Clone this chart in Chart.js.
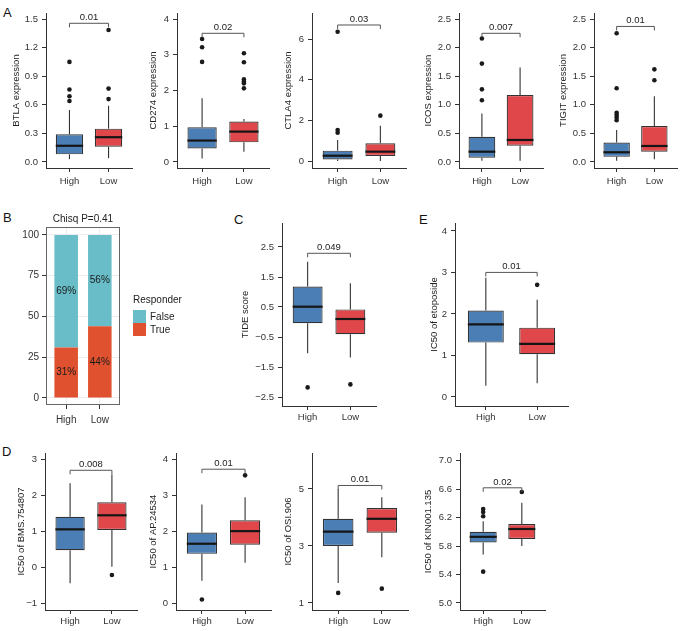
<!DOCTYPE html>
<html>
<head>
<meta charset="utf-8">
<script src="https://cdn.jsdelivr.net/npm/chart.js@4.4.0/dist/chart.umd.min.js"></script>
<style>
  body { margin: 0; background: #fff; width: 681px; height: 631px; position: relative; overflow: hidden; font-family: "Liberation Sans", Arial, sans-serif; }
  canvas { position: absolute; }
  .tag { position: absolute; font-size: 13px; line-height: 13px; color: #111; }
</style>
</head>
<body>
<div class="tag" style="left:3px;top:6px">A</div>
<div class="tag" style="left:3px;top:211px">B</div>
<div class="tag" style="left:234px;top:213px">C</div>
<div class="tag" style="left:419px;top:213px">E</div>
<div class="tag" style="left:2px;top:445px">D</div>

<canvas id="btla"></canvas>
<canvas id="cd274"></canvas>
<canvas id="ctla4"></canvas>
<canvas id="icos"></canvas>
<canvas id="tigit"></canvas>
<canvas id="resp"></canvas>
<canvas id="tide"></canvas>
<canvas id="etop"></canvas>
<canvas id="bms"></canvas>
<canvas id="ap"></canvas>
<canvas id="osi"></canvas>
<canvas id="kin"></canvas>

<script>
// groups on the x axis
var groups = ["High", "Low"];

// box stats: [lower whisker, Q1, median, Q3, upper whisker]
var btlaHigh = [0.03, 0.08, 0.17, 0.29, 0.545];
var btlaLow = [0.04, 0.16, 0.26, 0.35, 0.59];
var btlaOutHigh = [0.64, 0.69, 0.76, 1.05];
var btlaOutLow = [0.66, 0.77, 1.385];
var btlaTicks = [0, 0.3, 0.6, 0.9, 1.2, 1.5];

var cd274High = [0.1, 0.38, 0.6, 0.97, 1.78];
var cd274Low = [0.29, 0.55, 0.85, 1.13, 1.2];
var cd274OutHigh = [2.8, 3.21, 3.44];
var cd274OutLow = [2.06, 2.2, 2.25, 2.31, 2.79, 3.04];
var cd274Ticks = [0, 1, 2, 3, 4];

var ctla4High = [0.0, 0.08, 0.26, 0.51, 1.03];
var ctla4Low = [0.0, 0.25, 0.46, 0.87, 1.74];
var ctla4OutHigh = [1.39, 1.52, 6.36];
var ctla4OutLow = [2.23];
var ctla4Ticks = [0, 2, 4, 6];

var icosHigh = [0.02, 0.075, 0.18, 0.44, 0.85];
var icosLow = [0.02, 0.285, 0.385, 1.17, 1.65];
var icosOutHigh = [1.08, 1.27, 1.72, 2.16];
var icosOutLow = [];
var icosTicks = [0, 0.5, 1, 1.5, 2, 2.5];

var tigitHigh = [0.02, 0.09, 0.17, 0.34, 0.56];
var tigitLow = [0.05, 0.18, 0.28, 0.63, 1.15];
var tigitOutHigh = [0.73, 0.78, 0.82, 0.86, 1.29, 2.25];
var tigitOutLow = [1.43, 1.62];
var tigitTicks = [0, 0.5, 1, 1.5, 2, 2.5];

var tideHigh = [-1.04, -0.04, 0.51, 1.18, 2.01];
var tideLow = [-1.18, -0.41, 0.1, 0.42, 1.29];
var tideOutHigh = [-2.18];
var tideOutLow = [-2.08];
var tideTicks = [-2.5, -1.5, -0.5, 0.5, 1.5, 2.5];

var etopHigh = [0.27, 1.31, 1.75, 2.08, 2.87];
var etopLow = [0.33, 1.03, 1.28, 1.67, 2.34];
var etopOutHigh = [];
var etopOutLow = [2.7];
var etopTicks = [0, 1, 2, 3, 4];

var bmsHigh = [-0.45, 0.47, 1.05, 1.4, 2.33];
var bmsLow = [0.01, 1.03, 1.44, 1.8, 2.57];
var bmsOutHigh = [];
var bmsOutLow = [-0.22];
var bmsTicks = [-1, 0, 1, 2, 3];

var apHigh = [0.62, 1.37, 1.65, 1.96, 2.74];
var apLow = [1.12, 1.62, 2.0, 2.3, 2.94];
var apOutHigh = [0.1];
var apOutLow = [3.55];
var apTicks = [0, 1, 2, 3, 4];

var osiHigh = [1.7, 3.0, 3.5, 3.95, 5.0];
var osiLow = [2.6, 3.46, 3.95, 4.33, 4.71];
var osiOutHigh = [1.35];
var osiOutLow = [1.5];
var osiTicks = [1, 3, 5];

var kinHigh = [5.68, 5.85, 5.93, 6.0, 6.15];
var kinLow = [5.8, 5.9, 6.04, 6.11, 6.41];
var kinOutHigh = [5.44, 6.22, 6.28, 6.32];
var kinOutLow = [6.56];
var kinTicks = [5.0, 5.4, 5.8, 6.2, 6.6, 7.0];

// panel B: responder share (%)
var respTrue = [31, 44];
var respFalse = [69, 56];
var respTicks = [0, 25, 50, 75, 100];

var BLUE = "#4a7eb4";
var RED = "#e0474b";
var INK = "#333333";
var FONT = "Liberation Sans";

function fmt(v, dec) {
  var s = v.toFixed(dec);
  return s.charAt(0) === "-" ? "\u2212" + s.slice(1) : s;
}

function place(cv, c) {
  cv.style.left = c[0] + "px";
  cv.style.top = c[1] + "px";
  cv.width = c[2];
  cv.height = c[3];
}

function strokeLine(ctx, x1, y1, x2, y2) {
  ctx.beginPath();
  ctx.moveTo(x1, y1);
  ctx.lineTo(x2, y2);
  ctx.stroke();
}

var boxExtras = {
  id: "boxExtras",
  afterDatasetsDraw: function (chart, args, o) {
    var ctx = chart.ctx, x = chart.scales.x, y = chart.scales.y;
    var meta = chart.getDatasetMeta(0);
    ctx.save();
    o.stats.forEach(function (s, i) {
      var px = x.getPixelForValue(i + 1);
      var half = meta.data[i].width / 2;
      ctx.strokeStyle = INK;
      ctx.lineWidth = 1.1;
      strokeLine(ctx, px, y.getPixelForValue(s[0]), px, y.getPixelForValue(s[1]));
      strokeLine(ctx, px, y.getPixelForValue(s[3]), px, y.getPixelForValue(s[4]));
      ctx.strokeStyle = "#151515";
      ctx.lineWidth = 2.2;
      var ym = y.getPixelForValue(s[2]);
      strokeLine(ctx, px - half, ym, px + half, ym);
    });
    // significance bracket
    var by = y.getPixelForValue(o.bracket);
    var x1 = x.getPixelForValue(1), x2 = x.getPixelForValue(2);
    ctx.strokeStyle = "#555";
    ctx.lineWidth = 1;
    ctx.beginPath();
    ctx.moveTo(x1, by + 4);
    ctx.lineTo(x1, by);
    ctx.lineTo(x2, by);
    ctx.lineTo(x2, by + 4);
    ctx.stroke();
    ctx.fillStyle = "#222";
    ctx.font = "9.5px '" + FONT + "'";
    ctx.textAlign = "center";
    ctx.textBaseline = "alphabetic";
    ctx.fillText(o.p, (x1 + x2) / 2, by - 3);
    ctx.restore();
  }
};

// p: canvas [l,t,w,h], area [L,T,R,B], range [min,max], titleX, xpad
function boxChart(id, p) {
  var cv = document.getElementById(id);
  place(cv, p.canvas);
  var cl = p.canvas[0], ct = p.canvas[1], cw = p.canvas[2], ch = p.canvas[3];
  var L = p.area[0], T = p.area[1], R = p.area[2], B = p.area[3];
  var tickFont = { family: FONT, size: 9.5 };
  var outliers = [];
  p.outHigh.forEach(function (v) { outliers.push({ x: 1, y: v }); });
  p.outLow.forEach(function (v) { outliers.push({ x: 2, y: v }); });
  return new Chart(cv, {
    type: "bar",
    data: {
      datasets: [{
        data: [{ x: 1, y: [p.high[1], p.high[3]] }, { x: 2, y: [p.low[1], p.low[3]] }],
        backgroundColor: [BLUE, RED],
        borderColor: INK,
        borderWidth: 1.2,
        borderSkipped: false,
        barPercentage: 0.7,
        categoryPercentage: 1
      }, {
        type: "line",
        data: outliers,
        showLine: false,
        pointRadius: 2.3,
        pointBorderWidth: 0,
        pointBackgroundColor: "#1a1a1a"
      }]
    },
    options: {
      responsive: false,
      animation: false,
      devicePixelRatio: 1,
      layout: { padding: { top: T - ct, right: cl + cw - R, left: 0, bottom: 0 } },
      plugins: {
        legend: { display: false },
        tooltip: { enabled: false },
        boxExtras: { stats: [p.high, p.low], bracket: p.bracket, p: p.pval }
      },
      scales: {
        x: {
          type: "linear",
          min: 0.4,
          max: 2.6,
          offset: false,
          afterBuildTicks: function (s) { s.ticks = [{ value: 1 }, { value: 2 }]; },
          afterFit: function (s) { s.height = ct + ch - B; },
          ticks: {
            callback: function (v) { return groups[Math.round(v) - 1]; },
            font: tickFont, color: INK, padding: p.xpad, maxRotation: 0
          },
          grid: { offset: false, drawOnChartArea: false, drawTicks: true, tickLength: 4, color: INK },
          border: { display: true, color: INK, width: 1 }
        },
        y: {
          min: p.range[0],
          max: p.range[1],
          afterBuildTicks: function (s) { s.ticks = p.ticks.map(function (v) { return { value: v }; }); },
          afterFit: function (s) { s.width = L - cl; },
          ticks: {
            callback: function (v) { return fmt(v, p.dec); },
            font: tickFont, color: INK, padding: 4
          },
          title: {
            display: true, text: p.title, color: "#222",
            font: { family: FONT, size: 9.5, lineHeight: 1.2 },
            padding: { top: p.titleX - cl - 5.7, bottom: 0 }
          },
          grid: { drawOnChartArea: false, drawTicks: true, tickLength: 4, color: INK },
          border: { display: true, color: INK, width: 1 }
        }
      }
    },
    plugins: [boxExtras]
  });
}

boxChart("btla", { canvas: [6, 0, 130, 200], area: [46, 13, 132, 168], range: [-0.063, 1.563], ticks: btlaTicks, dec: 1,
  high: btlaHigh, low: btlaLow, outHigh: btlaOutHigh, outLow: btlaOutLow, bracket: 1.455, pval: "0.01",
  title: "BTLA expression", titleX: 16, xpad: 4 });
boxChart("cd274", { canvas: [143, 0, 130, 200], area: [177, 13, 269, 168], range: [-0.168, 4.168], ticks: cd274Ticks, dec: 0,
  high: cd274High, low: cd274Low, outHigh: cd274OutHigh, outLow: cd274OutLow, bracket: 3.6, pval: "0.02",
  title: "CD274 expression", titleX: 153, xpad: 4 });
boxChart("ctla4", { canvas: [278, 0, 132, 200], area: [312, 13, 407, 168], range: [-0.344, 7.28], ticks: ctla4Ticks, dec: 0,
  high: ctla4High, low: ctla4Low, outHigh: ctla4OutHigh, outLow: ctla4OutLow, bracket: 6.69, pval: "0.03",
  title: "CTLA4 expression", titleX: 288, xpad: 4 });
boxChart("icos", { canvas: [418, 0, 129, 200], area: [459, 13, 544, 168], range: [-0.105, 2.605], ticks: icosTicks, dec: 1,
  high: icosHigh, low: icosLow, outHigh: icosOutHigh, outLow: icosOutLow, bracket: 2.25, pval: "0.007",
  title: "ICOS expression", titleX: 428, xpad: 4 });
boxChart("tigit", { canvas: [553, 0, 128, 200], area: [594, 13, 679, 168], range: [-0.105, 2.605], ticks: tigitTicks, dec: 1,
  high: tigitHigh, low: tigitLow, outHigh: tigitOutHigh, outLow: tigitOutLow, bracket: 2.37, pval: "0.01",
  title: "TIGIT expression", titleX: 563, xpad: 4 });

boxChart("tide", { canvas: [235, 205, 145, 225], area: [282, 223, 376, 406], range: [-2.8, 3.3], ticks: tideTicks, dec: 1,
  high: tideHigh, low: tideLow, outHigh: tideOutHigh, outLow: tideOutLow, bracket: 2.29, pval: "0.049",
  title: "TIDE score", titleX: 245, xpad: 2 });
boxChart("etop", { canvas: [424, 205, 148, 225], area: [455, 223, 568, 406], range: [-0.217, 4.19], ticks: etopTicks, dec: 0,
  high: etopHigh, low: etopLow, outHigh: etopOutHigh, outLow: etopOutLow, bracket: 3.0, pval: "0.01",
  title: "IC50 of etoposide", titleX: 434, xpad: 2 });

boxChart("bms", { canvas: [11, 435, 130, 196], area: [45, 453, 137, 610], range: [-1.19, 3.17], ticks: bmsTicks, dec: 0,
  high: bmsHigh, low: bmsLow, outHigh: bmsOutHigh, outLow: bmsOutLow, bracket: 2.69, pval: "0.008",
  title: "IC50 of BMS.754807", titleX: 21, xpad: 2 });
boxChart("ap", { canvas: [143, 435, 132, 196], area: [176, 453, 271, 610], range: [-0.19, 4.17], ticks: apTicks, dec: 0,
  high: apHigh, low: apLow, outHigh: apOutHigh, outLow: apOutLow, bracket: 3.72, pval: "0.01",
  title: "IC50 of AP.24534", titleX: 153, xpad: 2 });
boxChart("osi", { canvas: [278, 435, 134, 196], area: [312, 453, 408, 610], range: [0.75, 6.26], ticks: osiTicks, dec: 0,
  high: osiHigh, low: osiLow, outHigh: osiOutHigh, outLow: osiOutLow, bracket: 5.12, pval: "0.01",
  title: "IC50 of OSI.906", titleX: 288, xpad: 2 });
boxChart("kin", { canvas: [418, 435, 131, 196], area: [460, 453, 545, 610], range: [4.9, 7.11], ticks: kinTicks, dec: 1,
  high: kinHigh, low: kinLow, outHigh: kinOutHigh, outLow: kinOutLow, bracket: 6.62, pval: "0.02",
  title: "IC50 of KIN001.135", titleX: 428, xpad: 2 });

// ---- panel B: stacked responder bars ----
var TEAL = "#68bdc8";
var ORANGE = "#e0522f";

var respExtras = {
  id: "respExtras",
  afterDatasetsDraw: function (chart) {
    var ctx = chart.ctx, a = chart.chartArea, x = chart.scales.x, y = chart.scales.y;
    ctx.save();
    ctx.strokeStyle = "#666";
    ctx.lineWidth = 1;
    ctx.strokeRect(a.left + 0.5, a.top + 0.5, a.right - a.left - 1, a.bottom - a.top - 1);
    ctx.fillStyle = "#1a1a1a";
    ctx.font = "10px '" + FONT + "'";
    ctx.textAlign = "center";
    ctx.textBaseline = "middle";
    respTrue.forEach(function (v, i) {
      var px = x.getPixelForValue(i + 1);
      ctx.fillText(v + "%", px, y.getPixelForValue(v / 2));
      ctx.fillText(respFalse[i] + "%", px, y.getPixelForValue(v + respFalse[i] / 2));
    });
    // title
    ctx.fillStyle = "#222";
    ctx.fillText("Chisq P=0.41", (a.left + a.right) / 2, 14);
    // legend
    ctx.textAlign = "left";
    ctx.font = "10px '" + FONT + "'";
    ctx.fillText("Responder", 133, 95);
    ctx.fillStyle = TEAL;
    ctx.fillRect(133, 105, 13, 13);
    ctx.fillStyle = ORANGE;
    ctx.fillRect(133, 118, 13, 13);
    ctx.fillStyle = "#222";
    ctx.fillText("False", 150, 112);
    ctx.fillText("True", 150, 125);
    ctx.restore();
  }
};

(function () {
  var cv = document.getElementById("resp");
  var c = [0, 205, 200, 225];
  place(cv, c);
  var L = 46, T = 227, R = 120, B = 405;
  var tickFont = { family: FONT, size: 10 };
  new Chart(cv, {
    type: "bar",
    data: {
      datasets: [{
        label: "True",
        data: respTrue.map(function (v, i) { return { x: i + 1, y: v }; }),
        backgroundColor: ORANGE,
        barPercentage: 0.7,
        categoryPercentage: 1
      }, {
        label: "False",
        data: respFalse.map(function (v, i) { return { x: i + 1, y: v }; }),
        backgroundColor: TEAL,
        barPercentage: 0.7,
        categoryPercentage: 1
      }]
    },
    options: {
      responsive: false,
      animation: false,
      devicePixelRatio: 1,
      layout: { padding: { top: T - c[1], right: c[0] + c[2] - R, left: 0, bottom: 0 } },
      plugins: { legend: { display: false }, tooltip: { enabled: false } },
      scales: {
        x: {
          type: "linear", min: 0.4, max: 2.6, stacked: true, offset: false,
          afterBuildTicks: function (s) { s.ticks = [{ value: 1 }, { value: 2 }]; },
          afterFit: function (s) { s.height = c[1] + c[3] - B; },
          ticks: {
            callback: function (v) { return groups[Math.round(v) - 1]; },
            font: tickFont, color: INK, padding: 5, maxRotation: 0
          },
          grid: { offset: false, color: "#ececec", tickColor: INK, tickLength: 4 },
          border: { display: false }
        },
        y: {
          min: -4.3, max: 104.9, stacked: true,
          afterBuildTicks: function (s) { s.ticks = respTicks.map(function (v) { return { value: v }; }); },
          afterFit: function (s) { s.width = L - c[0]; },
          ticks: { font: tickFont, color: INK, padding: 3 },
          grid: { color: "#ececec", tickColor: INK, tickLength: 4 },
          border: { display: false }
        }
      }
    },
    plugins: [respExtras]
  });
})();
</script>
</body>
</html>
